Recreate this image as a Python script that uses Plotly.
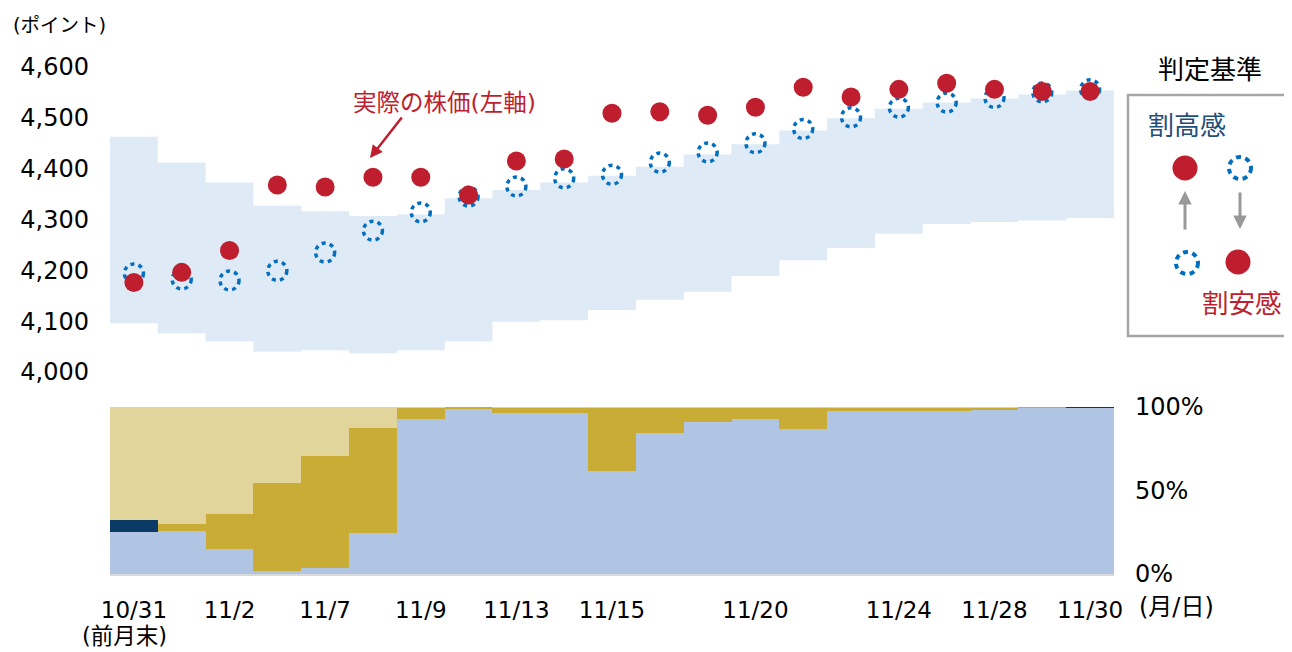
import plotly.graph_objects as go

# ---------------- data ----------------
dates = ["10/31", "11/1", "11/2", "11/6", "11/7", "11/8", "11/9", "11/10", "11/13", "11/14",
         "11/15", "11/16", "11/17", "11/20", "11/21", "11/22", "11/24", "11/27", "11/28", "11/29", "11/30"]
tick_dates = ["10/31", "11/2", "11/7", "11/9", "11/13", "11/15", "11/20", "11/24", "11/28", "11/30"]

band_high = [4463, 4412, 4373, 4327, 4316, 4307, 4310, 4342, 4358, 4373, 4386,
             4404, 4428, 4448, 4475, 4499, 4518, 4530, 4538, 4546, 4554]
band_low = [4096, 4076, 4060, 4040, 4043, 4037, 4043, 4060, 4099, 4102, 4122,
            4142, 4158, 4189, 4220, 4244, 4272, 4291, 4295, 4298, 4303]
actual_price = [4176, 4196, 4239, 4368, 4364, 4383, 4383, 4348, 4415, 4419, 4509,
                4512, 4505, 4521, 4560, 4541, 4556, 4568, 4556, 4552, 4552]
fair_value = [4194, 4182, 4180, 4199, 4235, 4278, 4314, 4345, 4365, 4381, 4388,
              4412, 4432, 4450, 4478, 4501, 4520, 4530, 4539, 4550, 4556]

share_a = [25.1, 25.5, 14.7, 1.7, 3.7, 24.5, 92.6, 99.3, 96.2, 96.2, 61.6,
           84.2, 91.2, 92.6, 86.8, 97.4, 97.4, 97.4, 98.4, 99.4, 99.5]
share_b = [7.5, 0, 0, 0, 0, 0, 0, 0, 0, 0, 0,
           0, 0, 0, 0, 0, 0, 0, 0, 0, 0.5]
share_c = [0, 4.6, 21.4, 52.5, 67.1, 63.1, 7.0, 0.7, 3.5, 3.5, 38.1,
           15.5, 8.5, 7.1, 12.9, 2.2, 2.2, 2.2, 1.3, 0.6, 0]
share_d = [67.4, 69.9, 63.9, 45.8, 29.2, 12.4, 0.4, 0, 0.3, 0.3, 0.3,
           0.3, 0.3, 0.3, 0.3, 0.4, 0.4, 0.4, 0.3, 0, 0]

# ---------------- styling ----------------
W, H = 1292, 652
OFF = 8  # page body margin
ML, MT = 102, 59
PLOT_RIGHT, PLOT_BOTTOM = 1106, 566  # figure coords
MR, MB = W - PLOT_RIGHT, H - PLOT_BOTTOM
PW, PH = W - ML - MR, H - MT - MB
FONT = "DejaVu Sans, Noto Sans CJK JP, sans-serif"
RED = "#BE1E2D"
BLUE_RING = "#006EBE"
BAND_FILL = "rgba(35,122,202,0.15)"


def px_x(px):  # page pixel -> paper
    return (px - OFF - ML) / PW


def px_y(py):
    return (PLOT_BOTTOM - (py - OFF)) / PH


idx = list(range(len(dates)))
tick_idx = [dates.index(d) for d in tick_dates]
edges = [i - 0.5 for i in idx] + [idx[-1] + 0.5]
low_step = band_low + [band_low[-1]]
high_step = band_high + [band_high[-1]]

fig = go.Figure()

# band (step fill)
fig.add_trace(go.Scatter(x=edges, y=low_step, mode="lines", line=dict(width=0, shape="hv"),
                         hoverinfo="skip", xaxis="x", yaxis="y"))
fig.add_trace(go.Scatter(x=edges, y=high_step, mode="lines", line=dict(width=0, shape="hv"),
                         fill="tonexty", fillcolor=BAND_FILL, hoverinfo="skip", xaxis="x", yaxis="y"))
# actual price
fig.add_trace(go.Scatter(x=idx, y=actual_price, mode="markers", name="実際の株価",
                         marker=dict(size=19, color=RED, line=dict(width=0)), xaxis="x", yaxis="y"))

# bottom stacked shares
for vals, col in [(share_a, "#B0C4E4"), (share_b, "#0C3A66"), (share_c, "#C9AC36"), (share_d, "#E2D59B")]:
    fig.add_trace(go.Bar(x=idx, y=vals, width=1, marker=dict(color=col, line=dict(width=0)),
                         xaxis="x2", yaxis="y2", hoverinfo="skip"))

shapes = []
# dotted rings for fair value (below traces, visible through semi-transparent band)
for i, v in zip(idx, fair_value):
    shapes.append(dict(type="circle", xref="x", yref="y", xsizemode="pixel", ysizemode="pixel",
                       xanchor=i, yanchor=v, x0=-9.5, x1=9.5, y0=-9.5, y1=9.5,
                       line=dict(color=BLUE_RING, width=3.5, dash="4px,4.2px"),
                       fillcolor="rgba(0,0,0,0)", layer="below"))

# legend box
shapes.append(dict(type="rect", xref="paper", yref="paper",
                   x0=px_x(1128), x1=px_x(1310), y0=px_y(336), y1=px_y(95),
                   line=dict(color="#A6A6A6", width=2.5), fillcolor="rgba(0,0,0,0)"))


def legend_dot(cx, cy, r):
    return dict(type="circle", xref="paper", yref="paper", xsizemode="pixel", ysizemode="pixel",
                xanchor=px_x(cx), yanchor=px_y(cy), x0=-r, x1=r, y0=-r, y1=r,
                fillcolor=RED, line=dict(width=0))


def legend_ring(cx, cy, r):
    return dict(type="circle", xref="paper", yref="paper", xsizemode="pixel", ysizemode="pixel",
                xanchor=px_x(cx), yanchor=px_y(cy), x0=-r, x1=r, y0=-r, y1=r,
                fillcolor="rgba(0,0,0,0)", line=dict(color=BLUE_RING, width=4, dash="5px,4.5px"))


shapes += [legend_dot(1185, 168, 12.5), legend_ring(1240, 168, 11),
           legend_ring(1187, 263, 11), legend_dot(1238, 262, 12.5)]

ann = []


def text(t, x, y, size, color="#000000", xanchor="center"):
    ann.append(dict(text=t, x=px_x(x), y=px_y(y), xref="paper", yref="paper", showarrow=False,
                    xanchor=xanchor, yanchor="middle", font=dict(family=FONT, size=size, color=color)))


def arrow(hx, hy, tx, ty, color, width, size=1.0):
    ann.append(dict(text="", x=px_x(hx), y=px_y(hy), xref="paper", yref="paper", showarrow=True,
                    ax=tx - hx, ay=ty - hy, axref="pixel", ayref="pixel", arrowhead=2,
                    arrowsize=size, arrowwidth=width, arrowcolor=color, standoff=0, startstandoff=0))


text("(ポイント)", 11, 25, 19.5, xanchor="left")
text("実際の株価(左軸)", 444, 103, 23.5, RED)
arrow(370, 158, 403, 116, RED, 2.5)
text("判定基準", 1210, 70, 26)
text("割高感", 1187, 126, 26, "#1F4E79")
text("割安感", 1242, 303, 26.5, RED)
arrow(1185, 191, 1185, 231, "#999999", 3, 0.9)
arrow(1240, 229, 1240, 191, "#999999", 3, 0.9)
text("(前月末)", 124, 636, 22.5)
text("(月/日)", 1137, 607, 24, xanchor="left")

axis_common = dict(showgrid=False, zeroline=False, ticks="", fixedrange=True)

fig.update_layout(
    width=W, height=H,
    margin=dict(l=ML, r=MR, t=MT, b=MB),
    paper_bgcolor="white", plot_bgcolor="white",
    showlegend=False, barmode="stack", bargap=0,
    font=dict(family=FONT, size=24, color="#000000"),
    xaxis=dict(domain=[0, 1], anchor="y", range=[-0.5, 20.5], showticklabels=False,
               showline=False, **axis_common),
    yaxis=dict(domain=[px_y(372), 1], anchor="x", range=[4000, 4600],
               tickvals=[4000, 4100, 4200, 4300, 4400, 4500, 4600], tickformat=",",
               ticklabelstandoff=20, showline=False, **axis_common),
    xaxis2=dict(domain=[0, 1], anchor="y2", range=[-0.5, 20.5], tickvals=tick_idx,
                ticktext=tick_dates, ticklabelstandoff=14, showline=True,
                linecolor="#D9D9D9", linewidth=2, tickfont=dict(size=23), **axis_common),
    yaxis2=dict(domain=[0, px_y(407)], anchor="x2", range=[0, 100], side="right",
                tickvals=[0, 50, 100], ticktext=["0%", "50%", "100%"],
                ticklabelstandoff=20, showline=False, **axis_common),
    shapes=shapes, annotations=ann,
)

fig.write_html("out.html")
